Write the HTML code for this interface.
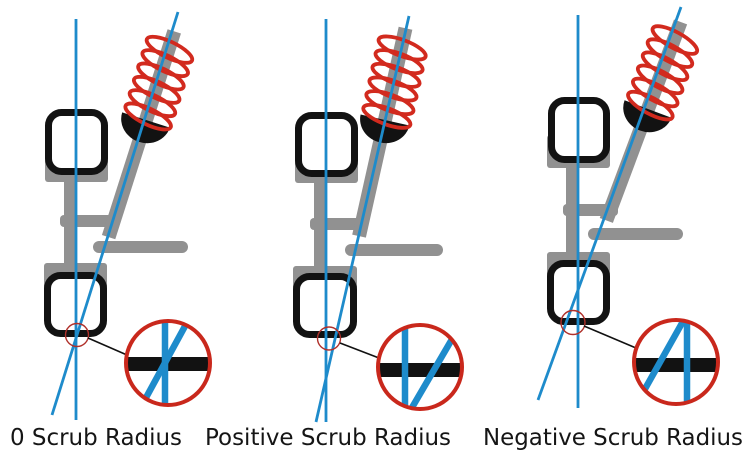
<!DOCTYPE html>
<html><head><meta charset="utf-8"><style>
html,body{margin:0;padding:0;background:#fff;width:750px;height:458px;overflow:hidden}
svg{display:block}
</style></head><body>
<svg width="750" height="458" viewBox="0 0 750 458" xmlns="http://www.w3.org/2000/svg">
<defs>
<g id="sp">
<path d="M-25,0 A25,23 0 0 0 25,0 Z" fill="#121212"/>
<g fill="none" stroke="#d22a1e" stroke-width="3.8">
<ellipse cx="1" cy="-4" rx="25" ry="8" transform="rotate(8 1 -4)"/>
<ellipse cx="1" cy="-18" rx="25" ry="8" transform="rotate(8 1 -18)"/>
<ellipse cx="1" cy="-32" rx="25" ry="8" transform="rotate(8 1 -32)"/>
<ellipse cx="1" cy="-46" rx="25" ry="8" transform="rotate(8 1 -46)"/>
<ellipse cx="1" cy="-60" rx="25" ry="8" transform="rotate(8 1 -60)"/>
<ellipse cx="1" cy="-74" rx="25" ry="8" transform="rotate(8 1 -74)"/>
</g>
</g>
<clipPath id="c1"><circle cx="168" cy="363" r="41"/></clipPath>
<clipPath id="c2"><circle cx="420" cy="367" r="41"/></clipPath>
<clipPath id="c3"><circle cx="676" cy="362" r="41"/></clipPath>
</defs>
<rect width="750" height="458" fill="#fff"/>

<!-- Panel 1 -->
<g fill="#919191">
<rect x="45" y="150" width="63" height="32" rx="3"/>
<rect x="44" y="263" width="63" height="30" rx="3"/>
<rect x="64" y="178" width="12" height="90"/>
<rect x="60" y="215" width="52" height="12" rx="4"/>
<rect x="93" y="241" width="95" height="12" rx="6"/>
</g>
<g transform="translate(146,120) rotate(17.7)">
<rect x="-7" y="-93" width="14" height="216" fill="#919191"/>
<use href="#sp"/>
</g>
<rect x="48.5" y="112.5" width="56" height="59" rx="13" fill="#fff" stroke="#121212" stroke-width="7"/>
<rect x="47.5" y="275.5" width="56" height="58" rx="13" fill="#fff" stroke="#121212" stroke-width="7"/>
<g stroke="#1e8bcb" stroke-width="2.8">
<line x1="76" y1="19" x2="76" y2="420"/>
<line x1="178" y1="12" x2="52" y2="415"/>
</g>
<circle cx="77" cy="335" r="11.5" fill="none" stroke="#b0302a" stroke-width="1.4"/>
<line x1="88" y1="338" x2="127" y2="355" stroke="#111" stroke-width="1.6"/>
<circle cx="168" cy="363" r="42" fill="#fff"/>
<g clip-path="url(#c1)">
<rect x="120" y="357" width="100" height="14" fill="#121212"/>
<line x1="165" y1="315" x2="165" y2="410" stroke="#1e8bcb" stroke-width="6.5"/>
<line x1="190" y1="317" x2="142" y2="405" stroke="#1e8bcb" stroke-width="6.5"/>
</g>
<circle cx="168" cy="363" r="42" fill="none" stroke="#c9281c" stroke-width="4"/>

<!-- Panel 2 -->
<g fill="#919191">
<rect x="295" y="152" width="63" height="31" rx="3"/>
<rect x="293" y="266" width="64" height="30" rx="3"/>
<rect x="314" y="180" width="12" height="90"/>
<rect x="310" y="218" width="57" height="12" rx="4"/>
<rect x="345" y="244" width="98" height="12" rx="6"/>
</g>
<g transform="translate(385,120) rotate(12.6)">
<rect x="-7" y="-94" width="14" height="213" fill="#919191"/>
<use href="#sp"/>
</g>
<rect x="298.5" y="115.5" width="56" height="58" rx="13" fill="#fff" stroke="#121212" stroke-width="7"/>
<rect x="296.5" y="276.5" width="57" height="58" rx="13" fill="#fff" stroke="#121212" stroke-width="7"/>
<g stroke="#1e8bcb" stroke-width="2.8">
<line x1="326" y1="19" x2="326" y2="422"/>
<line x1="409" y1="16" x2="316" y2="422"/>
</g>
<circle cx="329" cy="338.5" r="11.5" fill="none" stroke="#b0302a" stroke-width="1.4"/>
<line x1="340" y1="343" x2="379" y2="358" stroke="#111" stroke-width="1.6"/>
<circle cx="420" cy="367" r="42" fill="#fff"/>
<g clip-path="url(#c2)">
<rect x="370" y="363" width="100" height="14" fill="#121212"/>
<line x1="405" y1="320" x2="405" y2="415" stroke="#1e8bcb" stroke-width="6.5"/>
<line x1="455" y1="334" x2="410" y2="411" stroke="#1e8bcb" stroke-width="6.5"/>
</g>
<circle cx="420" cy="367" r="42" fill="none" stroke="#c9281c" stroke-width="4"/>

<!-- Panel 3 -->
<g fill="#919191">
<rect x="547" y="135" width="63" height="33" rx="3"/>
<rect x="547" y="252" width="63" height="30" rx="3"/>
<rect x="566" y="165" width="12" height="90"/>
<rect x="563" y="204" width="55" height="12" rx="4"/>
<rect x="588" y="228" width="95" height="12" rx="6"/>
</g>
<g transform="translate(648,109) rotate(20.5)">
<rect x="-7" y="-93" width="14" height="212" fill="#919191"/>
<use href="#sp"/>
</g>
<rect x="551.5" y="100.5" width="55" height="59" rx="13" fill="#fff" stroke="#121212" stroke-width="7"/>
<rect x="550.5" y="263.5" width="56" height="58" rx="13" fill="#fff" stroke="#121212" stroke-width="7"/>
<g stroke="#1e8bcb" stroke-width="2.8">
<line x1="578" y1="15" x2="578" y2="408"/>
<line x1="681" y1="7" x2="538" y2="400"/>
</g>
<circle cx="573" cy="322.5" r="12" fill="none" stroke="#b0302a" stroke-width="1.4"/>
<line x1="584" y1="326" x2="636" y2="348" stroke="#111" stroke-width="1.6"/>
<circle cx="676" cy="362" r="42" fill="#fff"/>
<g clip-path="url(#c3)">
<rect x="626" y="358" width="100" height="14" fill="#121212"/>
<line x1="687" y1="315" x2="687" y2="410" stroke="#1e8bcb" stroke-width="6.5"/>
<line x1="686" y1="316" x2="641" y2="396" stroke="#1e8bcb" stroke-width="6.5"/>
</g>
<circle cx="676" cy="362" r="42" fill="none" stroke="#c9281c" stroke-width="4"/>

<!-- Labels -->
<g font-family="DejaVu Sans, Liberation Sans, sans-serif" font-size="23" fill="#151515">
<text x="10" y="445" textLength="172" lengthAdjust="spacingAndGlyphs">0 Scrub Radius</text>
<text x="205" y="445" textLength="246" lengthAdjust="spacingAndGlyphs">Positive Scrub Radius</text>
<text x="483" y="445" textLength="260" lengthAdjust="spacingAndGlyphs">Negative Scrub Radius</text>
</g>
</svg>
</body></html>
